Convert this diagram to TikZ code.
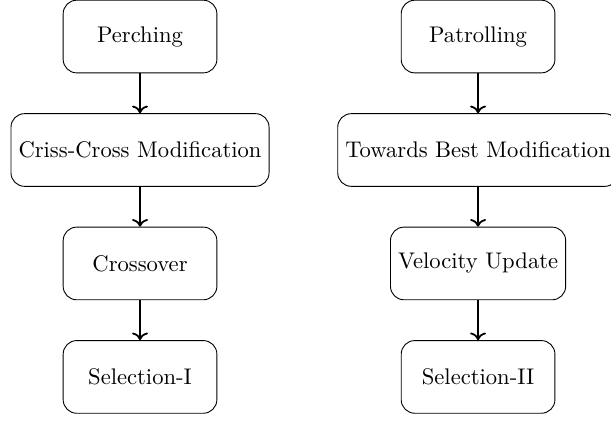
\documentclass[tikz,border=0pt]{standalone}
\usepackage{tikz}
\usetikzlibrary{arrows.meta,positioning}

\begin{document}
\begin{tikzpicture}[
    stage/.style={draw,rounded corners=6pt,minimum width=2.39cm,minimum height=1.13cm},
    flow/.style={->,thick},
    node distance=0.62cm]
  \useasboundingbox (0,0) rectangle (9.5,-6.546);
  % left column
  \node[stage] (perch) at (2.177,-0.568) {Perching};
  \node[stage,below=of perch] (criss) {Criss-Cross Modification};
  \node[stage,below=of criss] (cross) {Crossover};
  \node[stage,below=of cross] (selI) {Selection-I};
  % right column
  \node[stage] (patrol) at (7.433,-0.568) {Patrolling};
  \node[stage,below=of patrol] (toward) {Towards Best Modification};
  \node[stage,below=of toward] (velocity) {Velocity Update};
  \node[stage,below=of velocity] (selII) {Selection-II};
  \draw[flow] (perch) -- (criss);
  \draw[flow] (criss) -- (cross);
  \draw[flow] (cross) -- (selI);
  \draw[flow] (patrol) -- (toward);
  \draw[flow] (toward) -- (velocity);
  \draw[flow] (velocity) -- (selII);
\end{tikzpicture}
\end{document}
